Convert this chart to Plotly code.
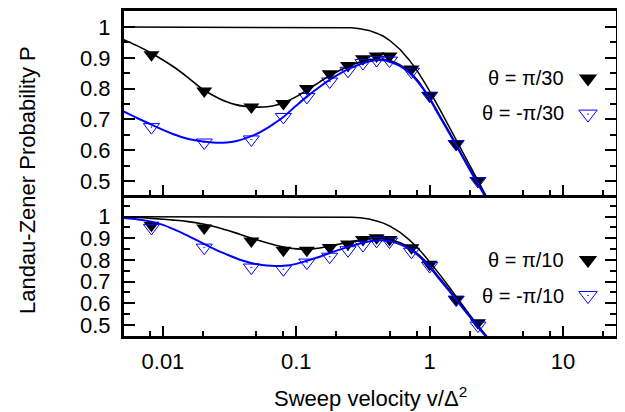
import plotly.graph_objects as go

# ---------------- data ----------------
x_markers = [0.0082, 0.0204, 0.046, 0.08, 0.12, 0.178, 0.244, 0.316, 0.4, 0.5, 0.73, 1.0, 1.58, 2.3]

top_pos_markers = [0.91, 0.792, 0.74, 0.752, 0.80, 0.848, 0.875, 0.897, 0.906, 0.906, 0.864, 0.778, 0.62, 0.502]
top_neg_markers = [0.675, 0.625, 0.635, 0.708, 0.773, 0.823, 0.858, 0.883, 0.893, 0.891, 0.855, 0.777, 0.62, 0.50]
bot_pos_markers = [0.96, 0.948, 0.888, 0.845, 0.845, 0.858, 0.874, 0.894, 0.902, 0.894, 0.856, 0.78, 0.618, 0.51]
bot_neg_markers = [0.948, 0.857, 0.765, 0.757, 0.788, 0.815, 0.845, 0.869, 0.888, 0.885, 0.838, 0.772, 0.617, 0.497]

x_curve = [0.005, 0.0065, 0.0082, 0.01, 0.012, 0.015, 0.02, 0.025, 0.03, 0.035, 0.04, 0.045,
           0.05, 0.06, 0.07, 0.08, 0.1, 0.12, 0.15, 0.18, 0.22, 0.26, 0.3, 0.35, 0.4, 0.45,
           0.5, 0.6, 0.7, 0.8, 0.9, 1.0, 1.2, 1.4, 1.6, 1.8, 2.0, 2.3, 2.6, 3.0]

adiabatic_curve = [1.0, 1.0, 1.0, 1.0, 1.0, 1.0, 1.0, 1.0, 1.0, 1.0, 1.0, 1.0,
                   1.0, 1.0, 1.0, 1.0, 1.0, 1.0, 1.0, 1.0, 0.9999, 0.9976, 0.9946, 0.989, 0.98, 0.97,
                   0.957, 0.927, 0.894, 0.86, 0.825, 0.792, 0.73, 0.675, 0.625, 0.582, 0.544, 0.495, 0.453, 0.408]

top_pos_curve = [0.96, 0.938, 0.915, 0.893, 0.871, 0.84, 0.797, 0.773, 0.757, 0.748, 0.743, 0.741,
                 0.740, 0.741, 0.746, 0.754, 0.774, 0.795, 0.822, 0.843, 0.863, 0.877, 0.886, 0.893, 0.896, 0.895,
                 0.891, 0.877, 0.856, 0.83, 0.80, 0.77, 0.71, 0.66, 0.615, 0.575, 0.54, 0.495, 0.455, 0.41]

top_neg_curve = [0.727, 0.703, 0.683, 0.666, 0.652, 0.638, 0.628, 0.624, 0.625, 0.629, 0.636, 0.644,
                 0.652, 0.671, 0.69, 0.708, 0.745, 0.774, 0.806, 0.83, 0.853, 0.868, 0.879, 0.888, 0.893, 0.892,
                 0.887, 0.873, 0.852, 0.826, 0.797, 0.766, 0.706, 0.656, 0.611, 0.571, 0.536, 0.49, 0.45, 0.405]

bot_pos_curve = [0.999, 0.996, 0.992, 0.988, 0.984, 0.978, 0.966, 0.952, 0.938, 0.925, 0.913, 0.903,
                 0.894, 0.879, 0.868, 0.86, 0.851, 0.849, 0.855, 0.864, 0.876, 0.885, 0.892, 0.897, 0.899, 0.898,
                 0.893, 0.879, 0.858, 0.832, 0.803, 0.773, 0.713, 0.662, 0.617, 0.577, 0.542, 0.497, 0.457, 0.412]

bot_neg_curve = [0.994, 0.987, 0.977, 0.962, 0.942, 0.915, 0.876, 0.847, 0.826, 0.809, 0.796, 0.787,
                 0.781, 0.774, 0.772, 0.773, 0.782, 0.796, 0.815, 0.833, 0.851, 0.865, 0.876, 0.885, 0.890, 0.890,
                 0.886, 0.872, 0.852, 0.826, 0.797, 0.767, 0.707, 0.657, 0.612, 0.572, 0.537, 0.491, 0.451, 0.406]

top_labels = ["θ = π/30", "θ = -π/30"]
bot_labels = ["θ = π/10", "θ = -π/10"]

x_tickvals = [0.01, 0.1, 1, 10]
x_ticktext = ["0.01", "0.1", "1", "10"]
x_minor = [0.008, 0.02, 0.05, 0.08, 0.2, 0.5, 0.8, 2, 5, 8, 20]
y_tickvals = [0.5, 0.6, 0.7, 0.8, 0.9, 1.0]
y_ticktext = ["0.5", "0.6", "0.7", "0.8", "0.9", "1"]
y_minor = [0.55, 0.65, 0.75, 0.85, 0.95, 1.05]

x_title = "Sweep velocity v/Δ<sup>2</sup>"
y_title = "Landau-Zener Probability P"

# ---------------- styles ----------------
BLUE = "#0000ff"
FONT = "Liberation Sans, Arial, sans-serif"
FS_TICK = 22
FS_TITLE = 22
FS_LEG = 20
filled = dict(symbol="triangle-down", size=14, color="black", line=dict(width=0))
opened = dict(symbol="triangle-down-open-dot", size=14, color=BLUE, line=dict(width=1, color=BLUE))

fig = go.Figure()

panels = [
    ("x", "y", "legend", top_pos_markers, top_neg_markers, top_pos_curve, top_neg_curve),
    ("x2", "y2", "legend2", bot_pos_markers, bot_neg_markers, bot_pos_curve, bot_neg_curve),
]

for xa, ya, lg, pm, nm, pc, nc in panels:
    fig.add_trace(go.Scatter(x=x_markers, y=pm, mode="markers", marker=filled, xaxis=xa, yaxis=ya,
                             showlegend=False, cliponaxis=False))
    fig.add_trace(go.Scatter(x=x_markers, y=nm, mode="markers", marker=opened, xaxis=xa, yaxis=ya,
                             showlegend=False, cliponaxis=False))
    fig.add_trace(go.Scatter(x=x_curve, y=adiabatic_curve, mode="lines", line=dict(color="black", width=1.5),
                             xaxis=xa, yaxis=ya, showlegend=False))
    fig.add_trace(go.Scatter(x=x_curve, y=pc, mode="lines", line=dict(color="black", width=1.6, shape="spline"),
                             xaxis=xa, yaxis=ya, showlegend=False))
    fig.add_trace(go.Scatter(x=x_curve, y=nc, mode="lines", line=dict(color=BLUE, width=2, shape="spline"),
                             xaxis=xa, yaxis=ya, showlegend=False))
    # legend samples (symbols only; text placed as annotations to their left)
    fig.add_trace(go.Scatter(x=[None], y=[None], mode="markers", name=" ", legend=lg,
                             marker=dict(filled, size=16), xaxis=xa, yaxis=ya, showlegend=True))
    fig.add_trace(go.Scatter(x=[None], y=[None], mode="markers", name=" ", legend=lg,
                             marker=dict(opened, size=16), xaxis=xa, yaxis=ya, showlegend=True))

xcommon = dict(type="log", range=[-2.292, 1.397], tickvals=x_tickvals, ticktext=x_ticktext,
               ticks="inside", ticklen=10, tickwidth=2, tickcolor="black",
               minor=dict(tickvals=x_minor, ticks="inside", ticklen=5, tickwidth=2, tickcolor="black", showgrid=False),
               showline=True, linewidth=3, linecolor="black", mirror=True, showgrid=False, zeroline=False,
               tickfont=dict(family=FONT, size=FS_TICK, color="black"))
ycommon = dict(tickvals=y_tickvals, ticktext=y_ticktext, ticks="inside", ticklen=11, tickwidth=2, tickcolor="black",
               minor=dict(tickvals=y_minor, ticks="inside", ticklen=6, tickwidth=2, tickcolor="black", showgrid=False),
               showline=True, linewidth=3, linecolor="black", mirror="ticks", showgrid=False, zeroline=False,
               tickfont=dict(family=FONT, size=FS_TICK, color="black"), ticklabelstandoff=6)

# the page body adds an 8px margin, so the figure is drawn 8px smaller in each direction
fig.update_layout(
    width=617, height=404,
    margin=dict(l=116, r=9, t=3, b=76, autoexpand=False),
    paper_bgcolor="white", plot_bgcolor="white",
    font=dict(family=FONT, size=FS_TICK, color="black"),
    xaxis=dict(xcommon, domain=[0, 1], anchor="y", showticklabels=False),
    yaxis=dict(ycommon, domain=[0.4338, 1], range=[0.4545, 1.052], anchor="x"),
    xaxis2=dict(xcommon, domain=[0, 1], anchor="y2", showticklabels=True, ticklabelstandoff=4),
    yaxis2=dict(ycommon, domain=[0, 0.4246], range=[0.449, 1.086], anchor="x2"),
    legend=dict(x=0.9024, xanchor="left", y=0.862, yanchor="top", bgcolor="rgba(0,0,0,0)",
                font=dict(size=25), itemwidth=30),
    legend2=dict(x=0.9024, xanchor="left", y=0.3037, yanchor="top", bgcolor="rgba(0,0,0,0)",
                 font=dict(size=25), itemwidth=30),
    showlegend=True,
)

annotations = []
for lbl, yy in zip(top_labels + bot_labels, [0.7938, 0.6862, 0.2338, 0.1231]):
    annotations.append(dict(text=lbl, x=0.8984, y=yy, xref="paper", yref="paper", xanchor="right",
                            yanchor="middle", showarrow=False, font=dict(family=FONT, size=FS_LEG, color="black")))
annotations.append(dict(text=y_title, x=-0.197, y=0.48, xref="paper", yref="paper", textangle=-90,
                        xanchor="center", yanchor="middle", showarrow=False,
                        font=dict(family=FONT, size=FS_TITLE, color="black")))
annotations.append(dict(text=x_title, x=0.5, y=-0.1877, xref="paper", yref="paper",
                        xanchor="center", yanchor="middle", showarrow=False,
                        font=dict(family=FONT, size=FS_TITLE, color="black")))
fig.update_layout(annotations=annotations)

fig.write_html("out.html")
